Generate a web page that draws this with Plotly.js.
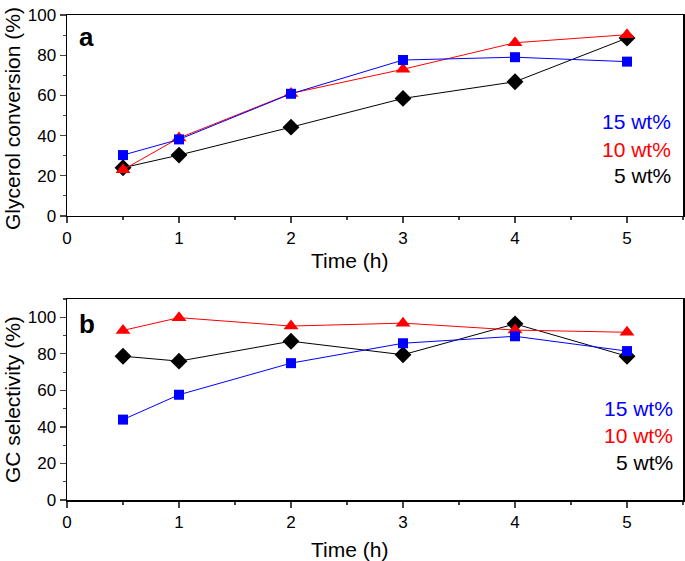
<!DOCTYPE html>
<html><head><meta charset="utf-8">
<script src="https://cdn.plot.ly/plotly-3.0.1.min.js"></script>
<style>html,body{margin:0;padding:0;background:#fff}#c{width:685px;height:561px}</style>
</head><body><div id="c"></div>
<script>
const time = [0.5, 1, 2, 3, 4, 5];
// Panel a: glycerol conversion (%)
const convBlue15 = [30.3, 38.1, 60.8, 77.6, 79.0, 76.8];
const convRed10 = [23.0, 38.8, 61.0, 73.0, 86.2, 90.2];
const convBlack5 = [24.0, 30.3, 44.2, 58.5, 66.8, 88.5];
// Panel b: GC selectivity (%)
const selBlue15 = [44.0, 57.6, 74.9, 85.8, 89.6, 81.5];
const selRed10 = [92.8, 99.8, 95.2, 96.8, 93.0, 91.8];
const selBlack5 = [78.7, 76.0, 86.9, 79.5, 96.4, 78.7];
const legendLabels = ["15 wt%", "10 wt%", "5 wt%"];
const legendColors = ["#0000ff", "#ff0000", "#000000"];
const xTitle = "Time (h)";
const yTitleA = "Glycerol conversion (%)";
const yTitleB = "GC selectivity (%)";

const FONT = "Liberation Sans, Arial, sans-serif";
function tr(y, color, sym, size, xa, ya) {
  return {x: time, y: y, type: 'scatter', mode: 'lines+markers', xaxis: xa, yaxis: ya,
    line: {color: color, width: 1}, marker: {symbol: sym, size: size, color: color}, showlegend: false};
}
const data = [
  tr(convBlack5, '#000000', 'diamond', 13, 'x', 'y'),
  tr(convRed10, '#ff0000', 'triangle-up', 13, 'x', 'y'),
  tr(convBlue15, '#0000ff', 'square', 10, 'x', 'y'),
  tr(selBlack5, '#000000', 'diamond', 13, 'x2', 'y2'),
  tr(selRed10, '#ff0000', 'triangle-up', 13, 'x2', 'y2'),
  tr(selBlue15, '#0000ff', 'square', 10, 'x2', 'y2'),
];
function xax(anchor) {
  return {range: [0, 5.5], dtick: 1, tick0: 0, ticks: 'outside', ticklen: 6, tickwidth: 1.3,
    showline: true, linewidth: 1.5, linecolor: '#000', mirror: true, showgrid: false, zeroline: false,
    anchor: anchor, tickfont: {size: 17, family: FONT, color: '#000'},
    minor: {dtick: 0.5, ticks: 'outside', ticklen: 3, tickwidth: 1.2, showgrid: false}};
}
function yax(range, domain, anchor) {
  return {range: range, domain: domain, dtick: 20, tick0: 0, ticks: 'outside', ticklen: 6, tickwidth: 1.3,
    showline: true, linewidth: 1.5, linecolor: '#000', mirror: true, showgrid: false, zeroline: false,
    anchor: anchor, tickfont: {size: 17, family: FONT, color: '#000'},
    minor: {dtick: 10, ticks: 'outside', ticklen: 3, tickwidth: 1.2, showgrid: false}};
}
const TF = {size: 21, family: FONT, color: '#000'};
const annotations = [];
annotations.push({text: '<b>a</b>', xref: 'x domain', yref: 'y domain', x: 0.016, y: 0.89, xanchor: 'left', yanchor: 'middle', showarrow: false, font: {size: 26, family: FONT, color: '#000'}});
annotations.push({text: '<b>b</b>', xref: 'x2 domain', yref: 'y2 domain', x: 0.016, y: 0.875, xanchor: 'left', yanchor: 'middle', showarrow: false, font: {size: 26, family: FONT, color: '#000'}});
annotations.push({text: xTitle, xref: 'paper', yref: 'paper', x: 0.4594, y: (500 - 260) / 485, xanchor: 'center', yanchor: 'middle', showarrow: false, font: TF});
annotations.push({text: xTitle, xref: 'paper', yref: 'paper', x: 0.4594, y: (500 - 549) / 485, xanchor: 'center', yanchor: 'middle', showarrow: false, font: TF});
annotations.push({text: yTitleA, xref: 'paper', yref: 'paper', x: (12 - 67) / 616, y: (500 - 119) / 485, xanchor: 'center', yanchor: 'middle', textangle: -90, showarrow: false, font: TF});
annotations.push({text: yTitleB, xref: 'paper', yref: 'paper', x: (12 - 67) / 616, y: (500 - 400) / 485, xanchor: 'center', yanchor: 'middle', textangle: -90, showarrow: false, font: TF});
const legA = [121, 149, 175], legB = [408, 435, 462];
legendLabels.forEach((t, i) => {
  annotations.push({text: t, xref: 'paper', yref: 'paper', x: (673 - 67) / 616, y: (500 - legA[i]) / 485, xanchor: 'right', yanchor: 'middle', showarrow: false, font: {size: 21, family: FONT, color: legendColors[i]}});
  annotations.push({text: t, xref: 'paper', yref: 'paper', x: (675 - 67) / 616, y: (500 - legB[i]) / 485, xanchor: 'right', yanchor: 'middle', showarrow: false, font: {size: 21, family: FONT, color: legendColors[i]}});
});
const layout = {
  width: 685, height: 561, margin: {l: 67, r: 2, t: 15, b: 61},
  paper_bgcolor: '#fff', plot_bgcolor: '#fff', font: {family: FONT, color: '#000'},
  xaxis: xax('y'), yaxis: yax([0, 100], [0.5856, 1.0], 'x'),
  xaxis2: xax('y2'), yaxis2: yax([0, 110], [0, 0.4144], 'x2'),
  annotations: annotations
};
Plotly.newPlot('c', data, layout, {staticPlot: true});
</script></body></html>
